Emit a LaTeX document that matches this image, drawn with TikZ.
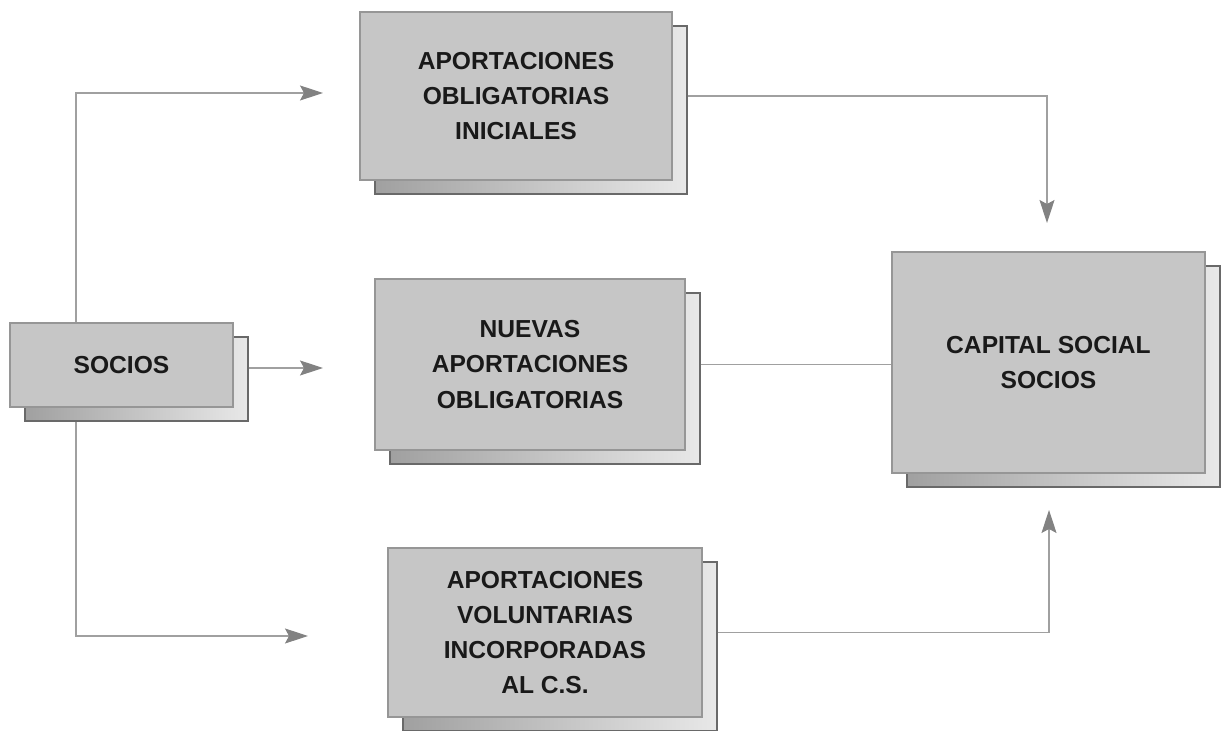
\documentclass[tikz,border=0pt]{standalone}
\usepackage{fontspec}
\setmainfont{Liberation Sans}
\usepackage{tikz}
\usetikzlibrary{arrows.meta}
\usetikzlibrary{calc}
\definecolor{frontgray}{RGB}{198,198,198}
\definecolor{edgegray}{RGB}{150,150,150}
\definecolor{backdark}{RGB}{160,160,160}
\definecolor{backlight}{RGB}{232,232,232}
\definecolor{backedge}{RGB}{105,105,105}
\definecolor{linegray}{RGB}{160,160,160}
\definecolor{tipgray}{RGB}{130,130,130}
\definecolor{textdark}{RGB}{25,25,25}
\tikzstyle{block} = [draw=edgegray, fill=frontgray,
	line width=0.6pt, inner sep=0pt, align=center,
	font=\bfseries\fontsize{14}{20}\selectfont, text=textdark]
\tikzstyle{backblock} = [draw=backedge, line width=0.6pt, inner sep=0pt,
	left color=backdark, right color=backlight]
\tikzstyle{arrow} = [-{Stealth[length=4.6mm, width=3mm, inset=0.8mm, color=tipgray]}, color=linegray, line width=0.6pt]
\tikzstyle{link} = [color=linegray, line width=0.6pt]
\newcommand{\drawblock}[4]{\node[backblock, #2] (#1s) at ($#3+(0.3,-0.28)$) {};
	\node[block, #2] (#1) at #3 {#4}}

\begin{document}
\begin{tikzpicture}
	\useasboundingbox (0,0) rectangle (24.5,-14.62);
	\coordinate (tipini) at (6.46,-1.86);
	\coordinate (tipnue) at (6.46,-7.36);
	\coordinate (tipvol) at (6.16,-12.72);
	\coordinate (tipcapa) at (20.94,-4.46);
	\coordinate (tipcapb) at (20.98,-10.2);
	
	% lines behind the blocks
	\draw [arrow] ($(2.43,-7.30)+(-0.91,0)$) |- (tipini);
	\draw [arrow] ($(2.43,-7.30)+(-0.91,0)$) |- (tipvol);
	
	\drawblock{socios}{minimum width=4.46cm, minimum height=1.68cm}{(2.43,-7.30)}{SOCIOS};
	\drawblock{ini}{minimum width=6.24cm, minimum height=3.36cm}{(10.32,-1.92)}{APORTACIONES\\OBLIGATORIAS\\INICIALES};
	\drawblock{nue}{minimum width=6.20cm, minimum height=3.42cm}{(10.60,-7.29)}{NUEVAS\\APORTACIONES\\OBLIGATORIAS};
	\drawblock{vol}{minimum width=6.28cm, minimum height=3.38cm}{(10.90,-12.65)}{APORTACIONES\\VOLUNTARIAS\\INCORPORADAS\\AL C.S.};
	\drawblock{cap}{minimum width=6.26cm, minimum height=4.42cm}{(20.97,-7.25)}{CAPITAL SOCIAL\\SOCIOS};
	
	\draw [arrow] (socioss.east |- tipnue) -- (tipnue);
	\draw [arrow] (inis.east |- ini) -| (tipcapa);
	\draw [link] (nues.east |- nue) -- (cap.west |- nue);
	\draw [arrow] (vols.east |- vol) -| (tipcapb);
\end{tikzpicture}
\end{document}
